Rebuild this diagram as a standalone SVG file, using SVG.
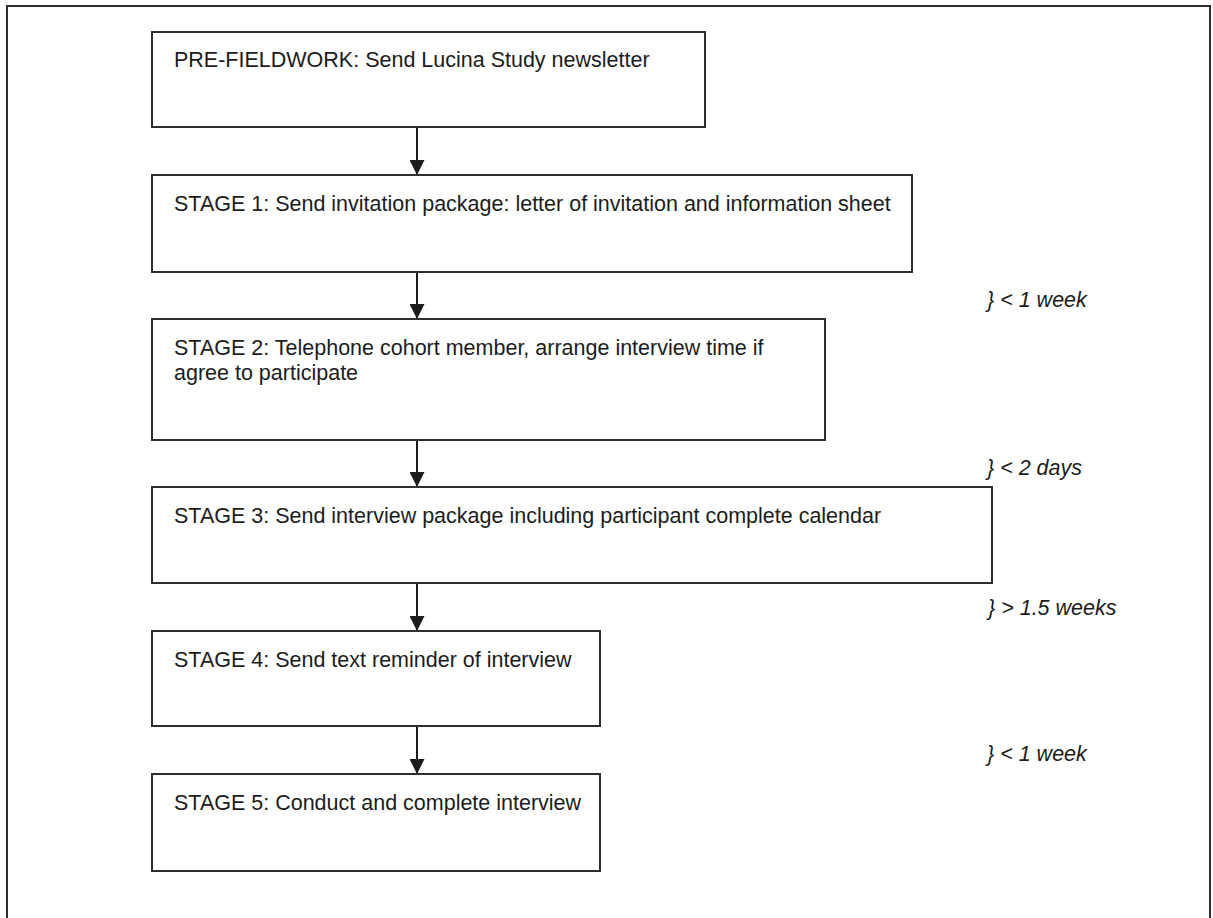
<svg xmlns="http://www.w3.org/2000/svg" width="1213" height="918" viewBox="0 0 1213 918">
  <style>
    .frame { fill: none; stroke: #2e2e2e; stroke-width: 2; }
    .box { fill: #ffffff; stroke: #2e2e2e; stroke-width: 2; }
    .label { font-family: "Liberation Sans", Arial, sans-serif; font-size: 21.5px; fill: #1c1c1c; }
    .note { font-family: "Liberation Sans", Arial, sans-serif; font-size: 21.5px; font-style: italic; fill: #1c1c1c; }
    .link { stroke: #1c1c1c; stroke-width: 2; fill: none; marker-end: url(#arrow); }
  </style>
  <defs>
    <!-- solid triangular head, tip at the end of the line -->
    <marker id="arrow" viewBox="0 0 15 15" refX="15" refY="7.5" markerWidth="15" markerHeight="15" markerUnits="userSpaceOnUse" orient="auto">
      <path d="M0,0 L15,7.5 L0,15 Z" fill="#1c1c1c"/>
    </marker>
  </defs>

  <!-- outer page frame, bottom edge runs past the canvas -->
  <rect class="frame" x="7" y="6" width="1203" height="930"/>

  <g id="connectors">
    <line class="link" x1="417" y1="127" x2="417" y2="175"/>
    <line class="link" x1="417" y1="272" x2="417" y2="319"/>
    <line class="link" x1="417" y1="440" x2="417" y2="487"/>
    <line class="link" x1="417" y1="583" x2="417" y2="631"/>
    <line class="link" x1="417" y1="726" x2="417" y2="774"/>
  </g>

  <g id="prefieldwork">
    <rect class="box" x="152" y="32" width="553" height="95"/>
    <text class="label" x="174" y="67">PRE-FIELDWORK: Send Lucina Study newsletter</text>
  </g>
  <g id="stage1">
    <rect class="box" x="152" y="175" width="760" height="97"/>
    <text class="label" x="174" y="211">STAGE 1: Send invitation package: letter of invitation and information sheet</text>
  </g>
  <g id="stage2">
    <rect class="box" x="152" y="319" width="673" height="121"/>
    <text class="label" x="174" y="355">STAGE 2: Telephone cohort member, arrange interview time if</text>
    <text class="label" x="174" y="380">agree to participate</text>
  </g>
  <g id="stage3">
    <rect class="box" x="152" y="487" width="840" height="96"/>
    <text class="label" x="174" y="523">STAGE 3: Send interview package including participant complete calendar</text>
  </g>
  <g id="stage4">
    <rect class="box" x="152" y="631" width="448" height="95"/>
    <text class="label" x="174" y="667">STAGE 4: Send text reminder of interview</text>
  </g>
  <g id="stage5">
    <rect class="box" x="152" y="774" width="448" height="97"/>
    <text class="label" x="174" y="810">STAGE 5: Conduct and complete interview</text>
  </g>

  <g id="intervals">
    <text class="note" x="987" y="307">} &lt; 1 week</text>
    <text class="note" x="987" y="475">} &lt; 2 days</text>
    <text class="note" x="988" y="615">} &gt; 1.5 weeks</text>
    <text class="note" x="987" y="761">} &lt; 1 week</text>
  </g>
</svg>
